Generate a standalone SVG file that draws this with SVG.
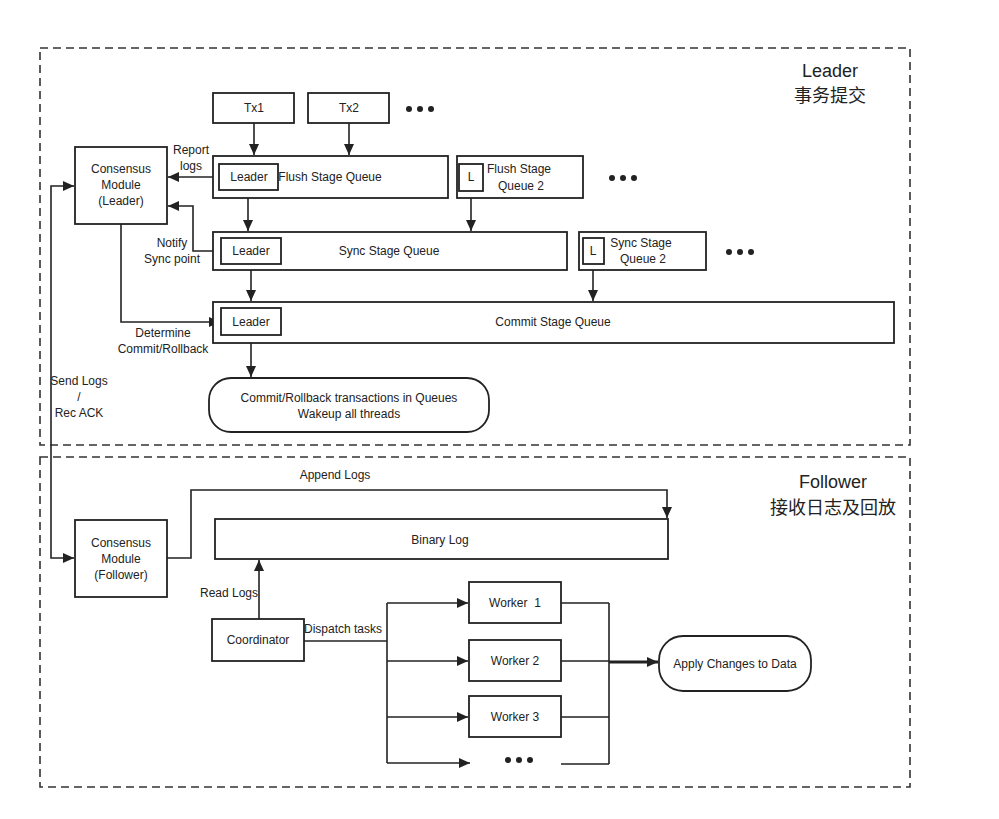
<svg xmlns="http://www.w3.org/2000/svg" width="999" height="819" viewBox="0 0 999 819">
<defs>
<marker id="ah" markerUnits="userSpaceOnUse" markerWidth="12" markerHeight="10" refX="11" refY="5" orient="auto"><path d="M0,0 L11,5 L0,10 Z" fill="#222"/></marker>
<style>
.box{fill:#fff;stroke:#222;stroke-width:1.8}
.frame{fill:none;stroke:#333;stroke-width:1.6;stroke-dasharray:8 5}
.ln{fill:none;stroke:#222;stroke-width:1.6}
.ar{fill:none;stroke:#222;stroke-width:1.6;marker-end:url(#ah)}
text{font-family:"Liberation Sans","Noto Sans CJK SC",sans-serif;font-size:12px;fill:#222;text-anchor:middle;dominant-baseline:central}
.big{font-size:18px}
.dot{fill:#222}
</style>
</defs>
<rect width="999" height="819" fill="#fff"/>
<g id="leader-frame"><rect class="frame" x="40" y="48" width="870" height="397"/>
<text class="big" x="830" y="71">Leader</text><text class="big" x="830" y="96">事务提交</text></g>
<g id="follower-frame"><rect class="frame" x="40" y="457" width="870" height="330"/>
<text class="big" x="833" y="482">Follower</text><text class="big" x="833" y="508">接收日志及回放</text></g>

<g id="connectors">
<path class="ar" d="M254,123 V155"/>
<path class="ar" d="M349,123 V155"/>
<path class="ar" d="M219,177 H168"/>
<path class="ar" d="M248,190 V231"/>
<path class="ar" d="M471,191 V231"/>
<path class="ar" d="M221,251 H193 V206 H168"/>
<path class="ar" d="M251,264 V301"/>
<path class="ar" d="M593,270 V301"/>
<path class="ar" d="M121,224 V322 H220"/>
<path class="ar" d="M251,335 V377"/>
<path class="ar" d="M51,445 V186 H74"/>
<path class="ar" d="M51,445 V558 H74"/>
<path class="ar" d="M167,558 H191 V490 H667 V518"/>
<path class="ar" d="M259,619 V560"/>
<path class="ln" d="M304,641 H387"/>
<path class="ln" d="M387,603 V763"/>
<path class="ar" d="M387,603 H468"/>
<path class="ar" d="M387,661 H468"/>
<path class="ar" d="M387,717 H468"/>
<path class="ar" d="M387,763 H470"/>
<path class="ln" d="M561,603 H609 M561,661 H609 M561,717 H609 M561,764 H609 M609,603 V764"/>
<path d="M609,662 H658" fill="none" stroke="#222" stroke-width="3" marker-end="url(#ah)"/>
<text x="191" y="150">Report</text><text x="191" y="166">logs</text>
<text x="172" y="243">Notify</text><text x="172" y="259">Sync point</text>
<text x="163" y="333">Determine</text><text x="163" y="349">Commit/Rollback</text>
<text x="79" y="381">Send Logs</text><text x="79" y="397">/</text><text x="79" y="413">Rec ACK</text>
<text x="335" y="475">Append Logs</text>
<text x="229" y="593">Read Logs</text>
<text x="343" y="629">Dispatch tasks</text>
</g>

<g id="tx1"><rect class="box" x="213" y="93" width="81" height="30"/><text x="254" y="108">Tx1</text></g>
<g id="tx2"><rect class="box" x="308" y="93" width="81" height="30"/><text x="349" y="108">Tx2</text></g>
<g id="tx-more"><circle class="dot" cx="409" cy="109" r="3"/><circle class="dot" cx="420" cy="109" r="3"/><circle class="dot" cx="431" cy="109" r="3"/></g>

<g id="consensus-leader"><rect class="box" x="75" y="147" width="92" height="77"/><text x="121" y="169">Consensus</text><text x="121" y="185">Module</text><text x="121" y="201">(Leader)</text></g>

<g id="flush-queue"><rect class="box" x="213" y="156" width="235" height="42"/><rect class="box" x="219" y="164" width="59" height="26"/><text x="249" y="177">Leader</text><text x="330" y="177">Flush Stage Queue</text></g>
<g id="flush-queue-2"><rect class="box" x="457" y="156" width="126" height="42"/><rect class="box" x="459" y="164" width="24" height="27"/><text x="471" y="177">L</text><text x="519" y="169">Flush Stage</text><text x="521" y="186">Queue 2</text></g>
<g id="flush-more"><circle class="dot" cx="612" cy="178" r="3"/><circle class="dot" cx="623" cy="178" r="3"/><circle class="dot" cx="634" cy="178" r="3"/></g>

<g id="sync-queue"><rect class="box" x="213" y="232" width="354" height="38"/><rect class="box" x="221" y="238" width="60" height="26"/><text x="251" y="251">Leader</text><text x="389" y="251">Sync Stage Queue</text></g>
<g id="sync-queue-2"><rect class="box" x="579" y="232" width="127" height="38"/><rect class="box" x="583" y="238" width="21" height="26"/><text x="593" y="251">L</text><text x="641" y="243">Sync Stage</text><text x="643" y="259">Queue 2</text></g>
<g id="sync-more"><circle class="dot" cx="729" cy="252" r="3"/><circle class="dot" cx="740" cy="252" r="3"/><circle class="dot" cx="751" cy="252" r="3"/></g>

<g id="commit-queue"><rect class="box" x="213" y="302" width="681" height="41"/><rect class="box" x="221" y="308" width="60" height="27"/><text x="251" y="322">Leader</text><text x="553" y="322">Commit Stage Queue</text></g>

<g id="commit-rollback"><rect class="box" x="209" y="378" width="280" height="54" rx="22"/><text x="349" y="398">Commit/Rollback transactions in Queues</text><text x="349" y="414">Wakeup all threads</text></g>

<g id="consensus-follower"><rect class="box" x="75" y="520" width="92" height="77"/><text x="121" y="543">Consensus</text><text x="121" y="559">Module</text><text x="121" y="575">(Follower)</text></g>

<g id="binary-log"><rect class="box" x="215" y="519" width="453" height="40"/><text x="440" y="540">Binary Log</text></g>

<g id="coordinator"><rect class="box" x="212" y="619" width="92" height="42"/><text x="258" y="640">Coordinator</text></g>

<g id="worker1"><rect class="box" x="469" y="582" width="92" height="41"/><text x="515" y="603" xml:space="preserve">Worker  1</text></g>
<g id="worker2"><rect class="box" x="469" y="640" width="92" height="41"/><text x="515" y="661">Worker 2</text></g>
<g id="worker3"><rect class="box" x="469" y="696" width="92" height="41"/><text x="515" y="717">Worker 3</text></g>
<g id="worker-more"><circle class="dot" cx="508" cy="760" r="3"/><circle class="dot" cx="519" cy="760" r="3"/><circle class="dot" cx="530" cy="760" r="3"/></g>

<g id="apply-changes"><rect class="box" x="659" y="636" width="152" height="55" rx="24"/><text x="735" y="664">Apply Changes to Data</text></g>
</svg>
